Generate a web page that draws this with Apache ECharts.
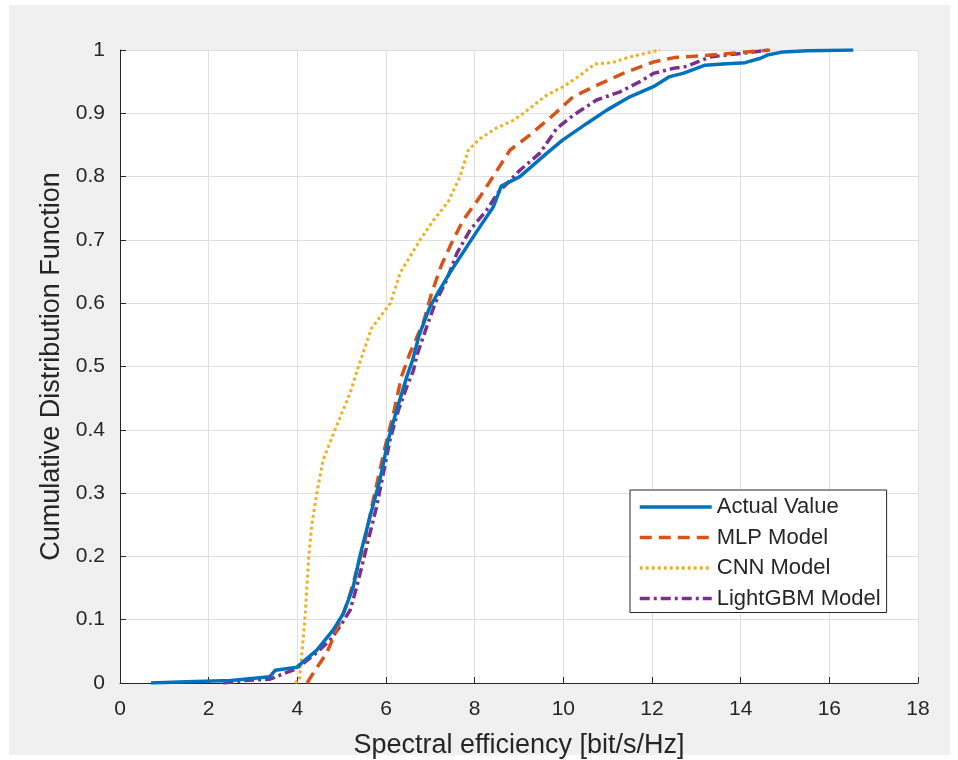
<!DOCTYPE html>
<html>
<head>
<meta charset="utf-8">
<script src="https://cdn.jsdelivr.net/npm/echarts@6/dist/echarts.min.js"></script>
<style>
html,body{margin:0;padding:0;background:#ffffff;}
#bg{position:absolute;left:9px;top:5px;width:941px;height:750px;background:#f0f0f0;}
#chart{position:absolute;left:0;top:0;width:958px;height:760px;}
</style>
</head>
<body>
<div id="bg"></div>
<div id="chart"></div>
<script>
// ---- data ----
const seriesNames = ['Actual Value', 'MLP Model', 'CNN Model', 'LightGBM Model'];
const xTicks = [0, 2, 4, 6, 8, 10, 12, 14, 16, 18];
const yTicks = [0, 0.1, 0.2, 0.3, 0.4, 0.5, 0.6, 0.7, 0.8, 0.9, 1];

const actualX = [0.7, 1.5, 2.5, 3.38, 3.5, 3.99, 4.44, 4.81, 5.04, 5.26, 5.41, 5.64, 5.86, 6.05, 6.24, 6.47, 6.6, 6.75, 6.99, 7.2, 7.44, 7.82, 8.12, 8.42, 8.6, 9.02, 9.63, 9.99, 10.53, 10.98, 11.5, 12.03, 12.4, 12.7, 13.2, 13.6, 14.1, 14.45, 14.6, 14.96, 15.5, 16.54];
const actualY = [0, 0.002, 0.004, 0.01, 0.02, 0.025, 0.052, 0.084, 0.11, 0.152, 0.2, 0.263, 0.32, 0.384, 0.431, 0.484, 0.51, 0.55, 0.594, 0.62, 0.648, 0.689, 0.721, 0.752, 0.785, 0.8, 0.837, 0.858, 0.884, 0.905, 0.926, 0.942, 0.958, 0.963, 0.976, 0.978, 0.98, 0.987, 0.992, 0.997, 0.999, 1.0];

const mlpX = [4.22, 4.4, 4.66, 4.92, 5.15, 5.34, 5.53, 5.68, 5.83, 5.98, 6.17, 6.35, 6.54, 6.84, 7.03, 7.25, 7.48, 7.74, 8.12, 8.46, 8.8, 9.25, 9.77, 10.22, 10.75, 11.35, 12.03, 12.5, 13.3, 14.0, 14.66];
const mlpY = [0, 0.02, 0.047, 0.089, 0.131, 0.178, 0.226, 0.279, 0.326, 0.373, 0.426, 0.484, 0.521, 0.569, 0.616, 0.66, 0.695, 0.731, 0.768, 0.805, 0.842, 0.866, 0.897, 0.926, 0.944, 0.963, 0.981, 0.988, 0.992, 0.996, 1.0];

const cnnX = [3.95, 4.05, 4.08, 4.12, 4.17, 4.26, 4.32, 4.44, 4.58, 4.85, 5.19, 5.38, 5.67, 6.1, 6.32, 6.77, 7.07, 7.4, 7.67, 7.86, 8.12, 8.5, 8.87, 9.1, 9.63, 10.0, 10.38, 10.71, 11.1, 11.5, 12.18];
const cnnY = [0, 0.005, 0.03, 0.06, 0.1, 0.2, 0.247, 0.3, 0.352, 0.4, 0.458, 0.5, 0.56, 0.6, 0.648, 0.7, 0.731, 0.76, 0.8, 0.842, 0.86, 0.877, 0.889, 0.9, 0.929, 0.942, 0.96, 0.978, 0.98, 0.989, 1.0];

const lgbmX = [2.33, 2.8, 3.38, 3.6, 3.99, 4.44, 4.74, 4.96, 5.19, 5.34, 5.49, 5.64, 5.79, 5.94, 6.09, 6.28, 6.47, 6.62, 6.69, 6.92, 7.11, 7.37, 7.6, 7.9, 8.27, 8.52, 9.02, 9.47, 9.85, 10.23, 10.75, 11.28, 11.73, 12.03, 12.48, 12.78, 13.31, 14.06, 14.66];
const lgbmY = [0, 0.004, 0.006, 0.012, 0.023, 0.048, 0.068, 0.089, 0.115, 0.152, 0.194, 0.237, 0.279, 0.331, 0.384, 0.431, 0.468, 0.494, 0.516, 0.563, 0.6, 0.637, 0.679, 0.716, 0.747, 0.774, 0.81, 0.837, 0.876, 0.897, 0.921, 0.934, 0.95, 0.963, 0.971, 0.974, 0.989, 0.995, 1.0];

// ---- build ----
function pairs(xs, ys) { return xs.map((x, i) => [x, ys[i]]); }
const FONT = '"Liberation Sans", Arial, Helvetica, sans-serif';
const TXT = '#262626';

const chart = echarts.init(document.getElementById('chart'), null, { renderer: 'canvas' });
const styles = [
  { color: '#0072BD', width: 3.5, type: 'solid' },
  { color: '#D95319', width: 3.5, type: [12, 7] },
  { color: '#EDB120', width: 3, type: [3, 3] },
  { color: '#7E2F8E', width: 3.5, type: [10, 4, 3, 4] }
];
const datas = [pairs(actualX, actualY), pairs(mlpX, mlpY), pairs(cnnX, cnnY), pairs(lgbmX, lgbmY)];

chart.setOption({
  backgroundColor: 'transparent',
  animation: false,
  grid: { left: 120, top: 50, width: 798, height: 633, show: true, backgroundColor: '#ffffff', borderWidth: 0, containLabel: false, outerBoundsMode: 'none' },
  xAxis: {
    type: 'value', min: xTicks[0], max: xTicks[xTicks.length - 1], interval: xTicks[1] - xTicks[0],
    name: 'Spectral efficiency [bit/s/Hz]', nameLocation: 'middle', nameGap: 49,
    nameTextStyle: { fontFamily: FONT, fontSize: 27, color: TXT },
    axisLine: { show: true, onZero: false, lineStyle: { color: TXT, width: 1 } },
    axisTick: { show: true, inside: true, length: 6, lineStyle: { color: TXT } },
    axisLabel: { fontFamily: FONT, fontSize: 21, color: TXT, margin: 16 },
    splitLine: { show: true, lineStyle: { color: '#dfdfdf', width: 1 } }
  },
  yAxis: {
    type: 'value', min: yTicks[0], max: yTicks[yTicks.length - 1], interval: 0.1,
    name: 'Cumulative Distribution Function', nameLocation: 'middle', nameGap: 53,
    nameTextStyle: { fontFamily: FONT, fontSize: 27, color: TXT },
    axisLine: { show: true, onZero: false, lineStyle: { color: TXT, width: 1 } },
    axisTick: { show: true, inside: true, length: 6, lineStyle: { color: TXT } },
    axisLabel: { fontFamily: FONT, fontSize: 21, color: TXT, margin: 15 },
    splitLine: { show: true, lineStyle: { color: '#dfdfdf', width: 1 } }
  },
  legend: {
    orient: 'vertical', left: 630, top: 490,
    backgroundColor: '#ffffff', borderColor: TXT, borderWidth: 1, borderRadius: 0,
    padding: [6, 6, 3, 8],
    itemWidth: 72, itemHeight: 14, itemGap: 8.5,
    itemStyle: { opacity: 0 },
    lineStyle: { width: 3.5 },
    textStyle: { fontFamily: FONT, fontSize: 22, color: TXT, lineHeight: 22 },
    data: seriesNames
  },
  series: seriesNames.map((n, i) => ({
    name: n, type: 'line', symbol: 'none', data: datas[i],
    lineStyle: styles[i], itemStyle: { color: styles[i].color },
    z: 10 - i
  }))
});
</script>
</body>
</html>
